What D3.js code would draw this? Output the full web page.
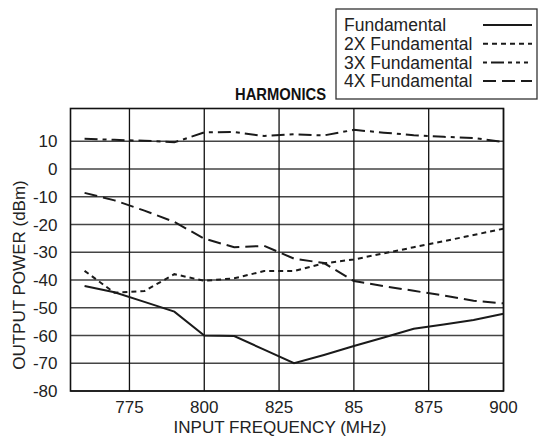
<!DOCTYPE html>
<html>
<head>
<meta charset="utf-8">
<script src="https://cdn.jsdelivr.net/npm/d3@7"></script>
<style>
  body { margin: 0; background: #fff; }
  svg { display: block; font-family: "Liberation Sans", Arial, sans-serif; }
</style>
</head>
<body>
<svg id="chart" width="539" height="439"></svg>
<script>
const freqs = [760, 770, 780, 790, 800, 810, 820, 830, 840, 850, 860, 870, 880, 890, 900];

// output power (dBm) for each harmonic
const fundamental = [-42.2, -44.4, -47.9, -51.4, -60, -60.2, -65.1, -70, -67, -63.8, -60.7, -57.6, -56, -54.4, -52.2];
const second = [-36.7, -44.6, -44, -37.9, -40.3, -39.4, -36.8, -36.8, -34, -32.6, -30.4, -28.2, -26, -23.8, -21.5];
const third = [10.9, 10.5, 10.2, 9.6, 13.2, 13.3, 11.9, 12.5, 12.1, 14.1, 13.1, 12.2, 11.6, 11.2, 9.7];
const fourth = [-8.6, -11.3, -15, -19.1, -25.1, -28.2, -27.7, -32.3, -33.9, -40.4, -42.2, -43.9, -45.6, -47.5, -48.4];

const seriesNames = ["Fundamental", "2X Fundamental", "3X Fundamental", "4X Fundamental"];
const xTicks = [775, 800, 825, 850, 875, 900];
const xTickLabels = ["775", "800", "825", "85", "875", "900"];
const yTicks = [10, 0, -10, -20, -30, -40, -50, -60, -70, -80];

const svg = d3.select('#chart');
const margin = { top: 108.5, right: 35.5, bottom: 48, left: 70.5 };
const width = +svg.attr('width');
const height = +svg.attr('height');
const innerWidth = width - margin.left - margin.right;
const innerHeight = height - margin.top - margin.bottom;

// scales in page pixels
const xScale = d3.scaleLinear()
    .domain([755.3, 900])
    .range([margin.left, margin.left + innerWidth]);

const yScale = d3.scaleLinear()
    .domain([-80, 21.8])
    .range([margin.top + innerHeight, margin.top]);

// grid lines
svg.selectAll('.hgrid')
    .data(yTicks)
    .enter().append('line')
    .attr('x1', margin.left).attr('x2', margin.left + innerWidth)
    .attr('y1', d => yScale(d)).attr('y2', d => yScale(d))
    .style('stroke', '#444')
    .style('stroke-width', 1.6);

svg.selectAll('.vgrid')
    .data(xTicks)
    .enter().append('line')
    .attr('x1', d => xScale(d)).attr('x2', d => xScale(d))
    .attr('y1', margin.top).attr('y2', margin.top + innerHeight)
    .style('stroke', '#111')
    .style('stroke-width', 1.3);

svg.append('rect')
    .attr('x', margin.left).attr('y', margin.top)
    .attr('width', innerWidth)
    .attr('height', innerHeight)
    .style('fill', 'none')
    .style('stroke', '#111')
    .style('stroke-width', 1.6);

// tick labels
svg.selectAll('.xlab')
    .data(xTicks)
    .enter().append('text')
    .attr('x', d => xScale(d))
    .attr('y', margin.top + innerHeight + 22)
    .style('text-anchor', 'middle')
    .style('font-size', '17px')
    .style('fill', '#222')
    .text((d, i) => xTickLabels[i]);

svg.selectAll('.ylab')
    .data(yTicks)
    .enter().append('text')
    .attr('x', margin.left - 13)
    .attr('y', d => yScale(d))
    .attr('dy', '0.36em')
    .style('text-anchor', 'end')
    .style('font-size', '17px')
    .style('fill', '#222')
    .text(d => String(d));

// curves
const styles = [
    { values: fundamental, dash: null },
    { values: second, dash: '5,4' },
    { values: third, dash: '13,5,4,5' },
    { values: fourth, dash: '13,6' }
];

const line = d3.line()
    .x(d => xScale(d[0]))
    .y(d => yScale(d[1]));

styles.forEach(s => {
    svg.append('path')
        .datum(freqs.map((f, i) => [f, s.values[i]]))
        .style('fill', 'none')
        .style('stroke', '#1a1a1a')
        .style('stroke-width', 2)
        .style('stroke-dasharray', s.dash)
        .attr('d', line);
});

// axis titles
svg.append('text')
    .attr('x', 280)
    .attr('y', 433)
    .style('text-anchor', 'middle')
    .style('font-size', '17px')
    .style('fill', '#222')
    .text('INPUT FREQUENCY (MHz)');

svg.append('text')
    .attr('x', 25)
    .attr('y', 275)
    .attr('transform', 'rotate(-90, 25, 275)')
    .style('text-anchor', 'middle')
    .style('font-size', '17px')
    .style('fill', '#222')
    .text('OUTPUT POWER (dBm)');

// title
svg.append('text')
    .attr('x', 235)
    .attr('y', 100)
    .attr('textLength', 91)
    .attr('lengthAdjust', 'spacingAndGlyphs')
    .style('font-family', '"Liberation Sans Narrow", "Liberation Sans", Arial, sans-serif')
    .style('font-weight', 'bold')
    .style('font-size', '16.5px')
    .style('fill', '#111')
    .text('HARMONICS');

// legend
const legend = svg.append('g');
legend.append('rect')
    .attr('x', 336).attr('y', 9)
    .attr('width', 201).attr('height', 90)
    .style('fill', '#fff')
    .style('stroke', '#333')
    .style('stroke-width', 1.3);

const legendDash = [null, '5,4', '4,4,13,4,4,4,4,4', '13,6'];
seriesNames.forEach((name, i) => {
    const cy = 25 + i * 18.7;
    legend.append('text')
        .attr('x', 344)
        .attr('y', cy)
        .attr('dy', '0.36em')
        .style('font-size', '17.5px')
        .style('fill', '#222')
        .text(name);
    legend.append('line')
        .attr('x1', 483).attr('x2', 532)
        .attr('y1', cy).attr('y2', cy)
        .style('stroke', '#1a1a1a')
        .style('stroke-width', 2)
        .style('stroke-dasharray', legendDash[i]);
});
</script>
</body>
</html>
